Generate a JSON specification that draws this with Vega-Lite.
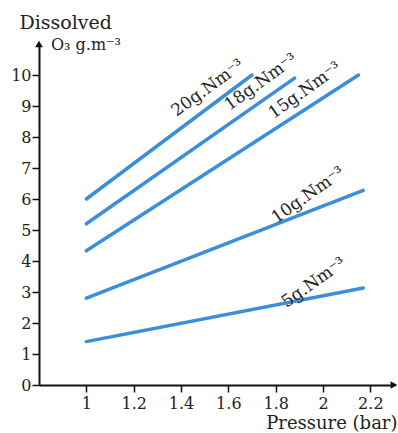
{
  "$schema": "https://vega.github.io/schema/vega-lite/v6.json",
  "width": 355,
  "height": 341,
  "autosize": {"type": "none"},
  "padding": {"left": 39, "top": 44, "right": 4, "bottom": 48},
  "background": "white",
  "config": {
    "view": {"stroke": null},
    "font": "DejaVu Serif",
    "axis": {"grid": false, "domainColor": "#111", "domainWidth": 2, "tickColor": "#111", "tickWidth": 1.5, "labelColor": "#222", "titleColor": "#222", "labelFont": "DejaVu Serif", "titleFont": "DejaVu Serif", "titleFontWeight": "normal", "labelOverlap": false}
  },
  "datasets": {
    "lines": [
      {"series": "20", "pressure": 1.0, "o3": 6.0},
      {"series": "20", "pressure": 1.7, "o3": 10.0},
      {"series": "18", "pressure": 1.0, "o3": 5.2},
      {"series": "18", "pressure": 1.88, "o3": 9.9},
      {"series": "15", "pressure": 1.0, "o3": 4.33},
      {"series": "15", "pressure": 2.15, "o3": 10.0},
      {"series": "10", "pressure": 1.0, "o3": 2.8},
      {"series": "10", "pressure": 2.17, "o3": 6.28},
      {"series": "5", "pressure": 1.0, "o3": 1.4},
      {"series": "5", "pressure": 2.17, "o3": 3.13}
    ],
    "labels": [
      {"series": "20", "pressure": 1.553, "o3": 9.16, "text": "20g.Nm⁻³"},
      {"series": "18", "pressure": 1.777, "o3": 9.35, "text": "18g.Nm⁻³"},
      {"series": "15", "pressure": 1.963, "o3": 9.08, "text": "15g.Nm⁻³"},
      {"series": "10", "pressure": 1.976, "o3": 5.70, "text": "10g.Nm⁻³"},
      {"series": "5", "pressure": 2.0, "o3": 2.88, "text": "5g.Nm⁻³"}
    ],
    "arrows": [
      {"end": "y", "pressure": 0.8, "o3": 11.0},
      {"end": "x", "pressure": 2.3, "o3": 0}
    ],
    "unit": [
      {"pressure": 0.8, "o3": 11.0, "text": "O₃ g.m⁻³"}
    ]
  },
  "layer": [
    {
      "data": {"name": "lines"},
      "mark": {"type": "line", "color": "#3b8edb", "strokeWidth": 3.5, "strokeCap": "round"},
      "encoding": {
        "x": {"field": "pressure", "type": "quantitative", "scale": {"domain": [0.8, 2.3], "nice": false, "zero": false},
          "axis": {"values": [1, 1.2, 1.4, 1.6, 1.8, 2, 2.2], "tickCount": 20, "format": "~g", "tickSize": 7, "labelPadding": 3, "labelFontSize": 16, "labelFlush": false, "labelOverlap": false,
            "title": "Pressure (bar)", "titleFontSize": 18, "titleAnchor": "end", "titleAlign": "right", "titleX": 358, "titleY": 43, "titleBaseline": "alphabetic"}},
        "y": {"field": "o3", "type": "quantitative", "scale": {"domain": [0, 11], "nice": false},
          "axis": {"values": [0, 1, 2, 3, 4, 5, 6, 7, 8, 9, 10], "tickCount": 20, "format": "d", "tickSize": 7, "labelPadding": 1, "labelFontSize": 16, "labelOverlap": false, "labelBound": false,
            "title": "Dissolved", "titleFontSize": 19, "titleAngle": 0, "titleAlign": "left", "titleBaseline": "alphabetic", "titleX": -20, "titleY": -16}},
        "detail": {"field": "series"}
      }
    },
    {
      "data": {"name": "labels"},
      "mark": {"type": "text", "fontSize": 17, "color": "#222", "align": "center", "baseline": "bottom", "dy": -7},
      "encoding": {
        "x": {"field": "pressure", "type": "quantitative"},
        "y": {"field": "o3", "type": "quantitative"},
        "text": {"field": "text"},
        "angle": {"field": "series", "type": "nominal", "scale": {"domain": ["20", "18", "15", "10", "5"], "range": [-36, -35, -33, -21, -11]}, "legend": null}
      }
    },
    {
      "data": {"name": "arrows"},
      "mark": {"type": "point", "filled": true, "color": "#111", "opacity": 1, "size": 60},
      "encoding": {
        "x": {"field": "pressure", "type": "quantitative"},
        "y": {"field": "o3", "type": "quantitative"},
        "shape": {"field": "end", "type": "nominal", "scale": {"domain": ["y", "x"], "range": ["triangle-up", "triangle-right"]}, "legend": null}
      }
    },
    {
      "data": {"name": "unit"},
      "mark": {"type": "text", "fontSize": 16, "color": "#222", "align": "left", "baseline": "middle", "dx": 12, "dy": 1},
      "encoding": {
        "x": {"field": "pressure", "type": "quantitative"},
        "y": {"field": "o3", "type": "quantitative"},
        "text": {"field": "text"}
      }
    }
  ]
}
